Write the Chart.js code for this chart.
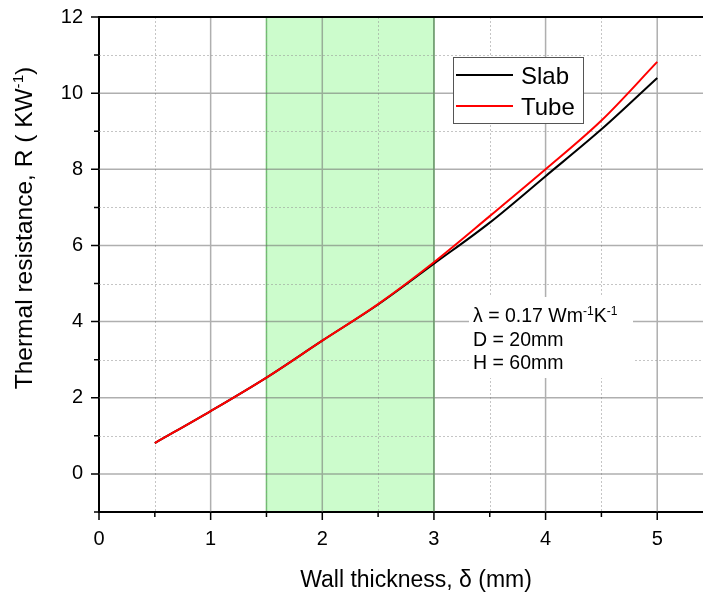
<!DOCTYPE html>
<html>
<head>
<meta charset="utf-8">
<title>Thermal resistance vs wall thickness</title>
<script src="https://cdn.jsdelivr.net/npm/chart.js@4.4.1/dist/chart.umd.min.js"></script>
<style>
  html, body { margin: 0; padding: 0; background: #fff; }
  #wrap { width: 703px; height: 593px; }
</style>
</head>
<body>
<div id="wrap"><canvas id="resChart" width="703" height="593"></canvas></div>
<script>
// wall thickness (mm) and thermal resistance (K/W)
const thickness = [0.5, 1, 1.5, 2, 2.5, 3, 3.5, 4, 4.5, 5];
const slabR = [0.81, 1.65, 2.53, 3.5, 4.45, 5.52, 6.6, 7.82, 9.05, 10.4];
const tubeR = [0.81, 1.65, 2.53, 3.5, 4.46, 5.56, 6.77, 8.0, 9.28, 10.82];

const xMajor = [0, 1, 2, 3, 4, 5];
const xMinor = [0.5, 1.5, 2.5, 3.5, 4.5];
const yMajor = [0, 2, 4, 6, 8, 10, 12];
const yMinor = [-1, 1, 3, 5, 7, 9, 11];

// shaded thickness range
const band = [1.5, 3];

const FONT = "Arial, 'Liberation Sans', sans-serif";

function drawRuns(ctx, x, y, runs) {
  // runs: [text, superscript?, size]
  let cx = x;
  runs.forEach(([txt, sup, size]) => {
    const fs = sup ? size * 0.62 : size;
    ctx.font = fs + "px " + FONT;
    ctx.fillText(txt, cx, sup ? y - size * 0.38 : y);
    cx += ctx.measureText(txt).width;
  });
  return cx - x;
}

function runsWidth(ctx, runs) {
  let w = 0;
  runs.forEach(([txt, sup, size]) => {
    ctx.font = (sup ? size * 0.62 : size) + "px " + FONT;
    w += ctx.measureText(txt).width;
  });
  return w;
}

const decor = {
  id: "decor",
  beforeDraw(chart) {
    const { ctx, chartArea: a, scales: { x } } = chart;
    const x0 = x.getPixelForValue(band[0]);
    const x1 = x.getPixelForValue(band[1]);
    ctx.save();
    ctx.fillStyle = "#ccfccc";
    ctx.fillRect(x0, a.top, x1 - x0, a.bottom - a.top);
    ctx.strokeStyle = "#6cc36c";
    ctx.lineWidth = 1.5;
    ctx.beginPath();
    ctx.moveTo(x0, a.top); ctx.lineTo(x0, a.bottom);
    ctx.moveTo(x1, a.top); ctx.lineTo(x1, a.bottom);
    ctx.stroke();
    ctx.restore();
  },
  beforeDatasetsDraw(chart) {
    const { ctx, chartArea: a, scales: { x, y } } = chart;
    ctx.save();
    // dotted minor grid
    ctx.strokeStyle = "rgba(150,150,150,0.55)";
    ctx.lineWidth = 1;
    ctx.setLineDash([2, 2]);
    ctx.beginPath();
    xMinor.forEach(v => {
      const px = Math.round(x.getPixelForValue(v)) + 0.5;
      ctx.moveTo(px, a.top); ctx.lineTo(px, a.bottom);
    });
    yMinor.slice(1).forEach(v => {
      const py = Math.round(y.getPixelForValue(v)) + 0.5;
      ctx.moveTo(a.left, py); ctx.lineTo(a.right, py);
    });
    ctx.stroke();
    // solid major grid
    ctx.setLineDash([]);
    ctx.strokeStyle = "rgba(110,110,110,0.55)";
    ctx.lineWidth = 1.5;
    ctx.beginPath();
    xMajor.slice(1).forEach(v => {
      const px = x.getPixelForValue(v);
      ctx.moveTo(px, a.top); ctx.lineTo(px, a.bottom);
    });
    yMajor.slice(0, -1).forEach(v => {
      const py = y.getPixelForValue(v);
      ctx.moveTo(a.left, py); ctx.lineTo(a.right, py);
    });
    ctx.stroke();
    ctx.restore();
  },
  afterDraw(chart) {
    const { ctx, chartArea: a, scales: { x, y } } = chart;
    ctx.save();
    // top frame line
    ctx.strokeStyle = "#000";
    ctx.lineWidth = 2;
    ctx.beginPath();
    ctx.moveTo(a.left - 1, a.top); ctx.lineTo(a.right, a.top);
    ctx.stroke();

    // tick marks
    ctx.lineWidth = 1.5;
    ctx.beginPath();
    xMajor.forEach(v => {
      const px = x.getPixelForValue(v);
      ctx.moveTo(px, a.bottom); ctx.lineTo(px, a.bottom + 8);
    });
    xMinor.forEach(v => {
      const px = x.getPixelForValue(v);
      ctx.moveTo(px, a.bottom); ctx.lineTo(px, a.bottom + 5);
    });
    yMajor.forEach(v => {
      const py = y.getPixelForValue(v);
      ctx.moveTo(a.left, py); ctx.lineTo(a.left - 8, py);
    });
    yMinor.forEach(v => {
      const py = y.getPixelForValue(v);
      ctx.moveTo(a.left, py); ctx.lineTo(a.left - 5, py);
    });
    ctx.stroke();

    // legend
    ctx.fillStyle = "#fff";
    ctx.fillRect(453, 57, 130, 66);
    ctx.strokeStyle = "#555";
    ctx.lineWidth = 1;
    ctx.strokeRect(453.5, 57.5, 130, 66);
    ctx.lineWidth = 2;
    [["Slab", "#000000", 75], ["Tube", "#ff0000", 106]].forEach(([name, col, ly]) => {
      ctx.strokeStyle = col;
      ctx.beginPath();
      ctx.moveTo(456, ly); ctx.lineTo(513, ly);
      ctx.stroke();
      ctx.fillStyle = "#000";
      ctx.font = "24px " + FONT;
      ctx.textBaseline = "alphabetic";
      ctx.fillText(name, 521, ly + 9);
    });

    // parameter note
    ctx.fillStyle = "#fff";
    ctx.fillRect(469, 297, 164, 81);
    ctx.fillStyle = "#000";
    ctx.textBaseline = "alphabetic";
    const fs = 19.5;
    drawRuns(ctx, 473, 322, [["\u03bb = 0.17 Wm", false, fs], ["-1", true, fs], ["K", false, fs], ["-1", true, fs]]);
    drawRuns(ctx, 473, 346, [["D = 20mm", false, fs]]);
    drawRuns(ctx, 473, 369, [["H = 60mm", false, fs]]);

    // axis titles
    ctx.textAlign = "center";
    ctx.font = "23px " + FONT;
    ctx.fillText("Wall thickness, \u03b4 (mm)", 416, 587);

    const yRuns = [["Thermal resistance, R ( KW", false, 24.5], ["-1", true, 24.5], [")", false, 24.5]];
    ctx.textAlign = "left";
    const w = runsWidth(ctx, yRuns);
    ctx.translate(32, 228);
    ctx.rotate(-Math.PI / 2);
    drawRuns(ctx, -w / 2, 0, yRuns);
    ctx.restore();
  }
};

function createChart() {
  const ctx = document.getElementById("resChart");
  new Chart(ctx, {
    type: "line",
    data: {
      datasets: [
        {
          label: "Tube",
          data: thickness.map((t, i) => ({ x: t, y: tubeR[i] })),
          borderColor: "#ff0000",
          borderWidth: 2,
          pointRadius: 0,
          cubicInterpolationMode: "monotone",
          order: 0
        },
        {
          label: "Slab",
          data: thickness.map((t, i) => ({ x: t, y: slabR[i] })),
          borderColor: "#000000",
          borderWidth: 2,
          pointRadius: 0,
          cubicInterpolationMode: "monotone",
          order: 1
        }
      ]
    },
    options: {
      responsive: false,
      animation: false,
      layout: { padding: { top: 17, right: 0, left: 0, bottom: 0 } },
      plugins: { legend: { display: false }, tooltip: { enabled: false } },
      scales: {
        x: {
          type: "linear",
          min: 0,
          max: 5.41,
          grid: { drawOnChartArea: false, drawTicks: false },
          border: { color: "#000", width: 2 },
          ticks: { color: "#000", font: { family: FONT, size: 20 }, padding: 15, maxRotation: 0 },
          afterBuildTicks: s => { s.ticks = xMajor.map(v => ({ value: v })); },
          afterFit: s => { s.height = 81; s.paddingLeft = 0; s.paddingRight = 0; }
        },
        y: {
          type: "linear",
          min: -1,
          max: 12,
          grid: { drawOnChartArea: false, drawTicks: false },
          border: { color: "#000", width: 2 },
          ticks: { color: "#000", font: { family: FONT, size: 20 }, padding: 16 },
          afterBuildTicks: s => { s.ticks = yMajor.map(v => ({ value: v })); },
          afterFit: s => { s.width = 99; s.paddingTop = 0; s.paddingBottom = 0; }
        }
      }
    },
    plugins: [decor]
  });
}

document.addEventListener("DOMContentLoaded", createChart);
</script>
</body>
</html>
